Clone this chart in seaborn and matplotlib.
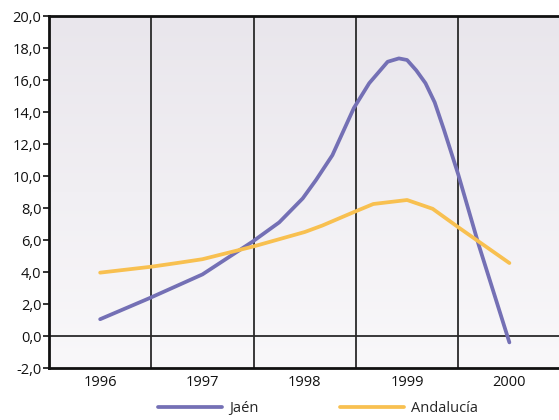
import matplotlib

matplotlib.use("agg")

import numpy as np
import pandas as pd
import matplotlib.pyplot as plt
import seaborn as sns
from matplotlib.colors import LinearSegmentedColormap

# Data (position in years, value)
years = ["1996", "1997", "1998", "1999", "2000"]

jaen_t = [1996.0, 1996.48, 1997.0, 1997.49, 1997.75, 1997.98, 1998.11, 1998.27,
          1998.48, 1998.63, 1998.81, 1998.92, 1999.0, 1999.09, 1999.18, 1999.27,
          1999.36, 1999.5, 1999.7, 2000.0]
jaen_v = [1.05, 2.36, 3.85, 5.9, 7.1, 8.6, 9.75, 11.3,
          14.25, 15.8, 17.14, 17.35, 17.25, 16.6, 15.8, 14.6,
          12.9, 10.1, 5.7, -0.4]

anda_t = [1996.0, 1996.5, 1996.75, 1997.0, 1997.5, 1998.0, 1998.17, 1998.5,
          1998.67, 1999.0, 1999.25, 1999.5, 2000.0]
anda_v = [3.96, 4.33, 4.56, 4.8, 5.6, 6.5, 6.9, 7.8,
          8.25, 8.5, 7.95, 6.8, 4.56]

series_names = ["Jaén", "Andalucía"]
colors = ["#7470b5", "#f8c050"]

df = pd.concat([
    pd.DataFrame({"t": jaen_t, "v": jaen_v, "serie": series_names[0]}),
    pd.DataFrame({"t": anda_t, "v": anda_v, "serie": series_names[1]}),
])

sns.set_style("white")
plt.rcParams["font.family"] = ["Open Sans", "DejaVu Sans"]

fig = plt.figure(figsize=(5.59, 4.20), dpi=100)
ax = fig.add_axes([49 / 559, 1 - 368 / 420, 1 - 49 / 559, (368 - 16) / 420])

x0, x1 = 1995.5, 2000.485
y0, y1 = -2, 20

# background gradient
cmap = LinearSegmentedColormap.from_list("bg", ["#f9f8fa", "#e9e6ec"])
grad = np.linspace(0, 1, 256).reshape(-1, 1)
ax.imshow(grad, extent=[x0, x1, y0, y1], origin="lower", aspect="auto",
          cmap=cmap, zorder=0)

sns.lineplot(data=df, x="t", y="v", hue="serie", palette=colors,
             estimator=None, sort=False, linewidth=2.7, ax=ax, zorder=3)

for xv in [1996.5, 1997.5, 1998.5, 1999.5]:
    ax.axvline(xv, color="#2a2a2a", linewidth=1.3, zorder=2)
ax.axhline(0, color="#2a2a2a", linewidth=1.3, zorder=2)

ax.set_xlim(x0, x1)
ax.set_ylim(y0, y1)
ax.set_xticks([1996, 1997, 1998, 1999, 2000])
ax.set_xticklabels(years)
ax.set_yticks(np.arange(-2, 21, 2))
ax.set_yticklabels([f"{v:.1f}".replace(".", ",") for v in np.arange(-2, 21, 2)])
ax.tick_params(axis="y", length=4, width=1.2, direction="out", labelsize=10.5,
               pad=1.5, left=True, colors="#111111")
ax.tick_params(axis="x", length=0, labelsize=10.5, pad=5, colors="#111111")
ax.set_xlabel("")
ax.set_ylabel("")

for side in ["left", "top", "bottom"]:
    ax.spines[side].set_color("#111111")
    ax.spines[side].set_linewidth(2)
ax.spines["right"].set_visible(False)

handles, labels = ax.get_legend_handles_labels()
ax.get_legend().remove()
fig.legend(handles, labels, loc="lower left", bbox_to_anchor=(145 / 559, -0.022),
           ncol=2, frameon=False, fontsize=10.5, handlelength=4.4,
           handletextpad=0.45, columnspacing=5.6)

plt.savefig("out.png", dpi=100)
